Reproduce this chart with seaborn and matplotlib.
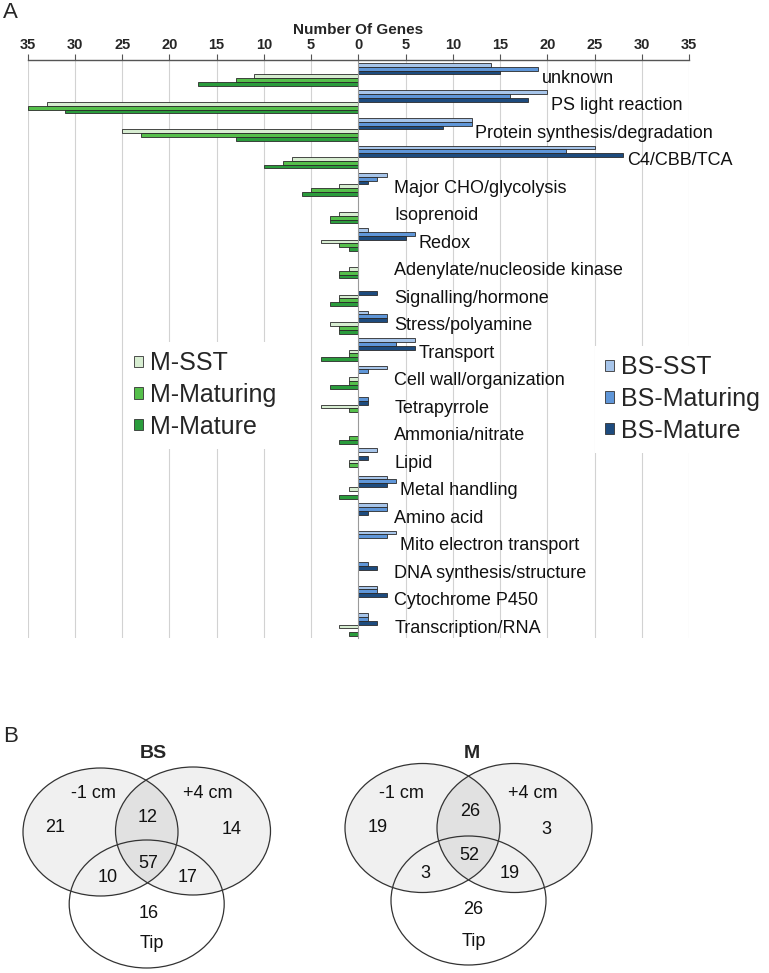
import matplotlib
matplotlib.use('Agg')
import matplotlib.pyplot as plt
import seaborn as sns
import pandas as pd
import numpy as np
from matplotlib.patches import Ellipse, Patch

# ---------------- data ----------------
categories = ['unknown', 'PS light reaction', 'Protein synthesis/degradation', 'C4/CBB/TCA',
              'Major CHO/glycolysis', 'Isoprenoid', 'Redox', 'Adenylate/nucleoside kinase',
              'Signalling/hormone', 'Stress/polyamine', 'Transport', 'Cell wall/organization',
              'Tetrapyrrole', 'Ammonia/nitrate', 'Lipid', 'Metal handling', 'Amino acid',
              'Mito electron transport', 'DNA synthesis/structure', 'Cytochrome P450',
              'Transcription/RNA']

bs_sst      = [14, 20, 12, 25, 3, 0, 1, 0, 0, 1, 6, 3, 0, 0, 2, 3, 3, 4, 0, 2, 1]
bs_maturing = [19, 16, 12, 22, 2, 0, 6, 0, 0, 3, 4, 1, 1, 0, 0, 4, 3, 3, 1, 2, 1]
bs_mature   = [15, 18, 9, 28, 1, 0, 5, 0, 2, 3, 6, 0, 1, 0, 1, 3, 1, 0, 2, 3, 2]
m_sst       = [11, 33, 25, 7, 2, 2, 4, 1, 2, 3, 1, 1, 4, 0, 1, 1, 0, 0, 0, 0, 2]
m_maturing  = [13, 35, 23, 8, 5, 3, 2, 2, 2, 2, 1, 1, 1, 1, 1, 0, 0, 0, 0, 0, 0]
m_mature    = [17, 31, 13, 10, 6, 3, 1, 2, 3, 2, 4, 3, 0, 2, 0, 2, 0, 0, 0, 0, 1]

bs_series = ['BS-SST', 'BS-Maturing', 'BS-Mature']
m_series = ['M-SST', 'M-Maturing', 'M-Mature']
tick_values = [-35, -30, -25, -20, -15, -10, -5, 0, 5, 10, 15, 20, 25, 30, 35]

venn_regions = ['-1 only', '+4 only', '-1&+4', 'all', '-1&Tip', '+4&Tip', 'Tip only']
venn_bs = [21, 14, 12, 57, 10, 17, 16]
venn_m = [19, 3, 26, 52, 3, 19, 26]

# ---------------- style ----------------
sns.set_style('white')
plt.rcParams['font.family'] = ['Liberation Sans', 'DejaVu Sans']

palette = {'BS-SST': '#a7c5ea', 'BS-Maturing': '#5f96d8', 'BS-Mature': '#1d4b7e',
           'M-SST': '#d7edd1', 'M-Maturing': '#55bf4b', 'M-Mature': '#2a9c3c'}

values = {'BS-SST': bs_sst, 'BS-Maturing': bs_maturing, 'BS-Mature': bs_mature,
          'M-SST': [-v for v in m_sst], 'M-Maturing': [-v for v in m_maturing],
          'M-Mature': [-v for v in m_mature]}
rows = []
for s in bs_series + m_series:
    for c, v in zip(categories, values[s]):
        rows.append({'category': c, 'series': s, 'value': v})
df = pd.DataFrame(rows)

W, H = 769, 973
fig = plt.figure(figsize=(W / 100, H / 100), dpi=100)
ax = fig.add_axes([27.7 / W, 1 - 638 / H, (689 - 27.7) / W, (638 - 60) / H])

sns.barplot(data=df, x='value', y='category', hue='series', order=categories,
            hue_order=bs_series + m_series, palette=palette, orient='h',
            width=0.836, dodge=True, saturation=1, errorbar=None,
            edgecolor='#2a2a2a', linewidth=0.6, legend=False, ax=ax)
for p in ax.patches:
    if abs(p.get_width()) < 1e-9:
        p.set_linewidth(0)

ax.set_xlim(-35, 35)
ax.set_ylim(20.49, -0.527)
ax.set_axisbelow(True)
for t in tick_values:
    if t != 0:
        ax.axvline(t, color='#d2d2d2', lw=0.8, zorder=0)

ax.xaxis.tick_top()
ax.xaxis.set_label_position('top')
ax.set_xticks(tick_values)
ax.set_xticklabels([str(abs(t)) for t in tick_values], fontweight='bold', fontsize=10.5)
ax.set_xlabel('Number Of Genes', fontweight='bold', fontsize=11, labelpad=3)
ax.set_ylabel('')
ax.tick_params(axis='x', direction='out', length=4, width=0.8, color='#555555', pad=2)
ax.set_yticks(np.arange(0.5, 20.0, 1.0))
ax.tick_params(axis='y', direction='out', length=3, width=0.6, color='#999999',
               labelleft=False)
ax.spines['bottom'].set_visible(False)
ax.spines['right'].set_visible(False)
ax.spines['top'].set_color('#555555')
ax.spines['top'].set_linewidth(1.0)
ax.spines['left'].set_position(('data', 0))
ax.spines['left'].set_color('#9a9a9a')
ax.spines['left'].set_linewidth(0.8)

for i, c in enumerate(categories):
    xm = max(bs_sst[i], bs_maturing[i], bs_mature[i])
    ax.text(max(xm, 3.4) + 0.4, i + 0.13, c, fontsize=13, va='center', ha='left',
            color='#111111')

def make_legend(names, x_px, y_px):
    handles = [Patch(facecolor=palette[s], edgecolor='#333333', linewidth=0.6, label=s)
               for s in names]
    leg = ax.legend(handles=handles, loc='center left',
                    bbox_to_anchor=(x_px / W, 1 - y_px / H), bbox_transform=fig.transFigure,
                    frameon=True, fontsize=18, handlelength=0.35, handleheight=0.35,
                    handletextpad=0.3, labelspacing=0.3, borderpad=0.4, borderaxespad=0,
                    fancybox=False)
    leg.get_frame().set_edgecolor('none')
    leg.get_frame().set_facecolor('white')
    leg.get_frame().set_alpha(1)
    return leg

leg1 = make_legend(m_series, 124, 395)
ax.add_artist(leg1)
leg2 = make_legend(bs_series, 595, 399)
ax.add_artist(leg2)

fig.text(3 / W, 1 - 13 / H, 'A', fontsize=16, va='center', ha='left')
fig.text(3 / W, 1 - 737 / H, 'B', fontsize=16, va='center', ha='left')

# ---------------- panel B: Venn diagrams ----------------
axb = fig.add_axes([0, 0, 1, 1])
axb.set_xlim(0, W)
axb.set_ylim(H, 0)
axb.axis('off')
axb.patch.set_alpha(0)

def venn(title, counts, centers, size, text_pos, title_pos, label_pos):
    (lx, ly), (rx, ry), (bx, by) = centers
    w, h = size
    for (cx, cy) in [(lx, ly), (rx, ry)]:
        axb.add_patch(Ellipse((cx, cy), w, h, facecolor=(0, 0, 0, 0.06), edgecolor='none'))
    for (cx, cy) in centers:
        axb.add_patch(Ellipse((cx, cy), w, h, facecolor='none', edgecolor='#333333', lw=0.9))
    for n, (tx, ty) in zip(counts, text_pos):
        axb.text(tx, ty, str(n), fontsize=13, ha='center', va='center', color='#111111')
    axb.text(title_pos[0], title_pos[1], title, fontsize=14, fontweight='bold',
             ha='center', va='center')
    for lab, (tx, ty) in zip(['-1 cm', '+4 cm', 'Tip'], label_pos):
        axb.text(tx, ty, lab, fontsize=13, ha='center', va='center', color='#111111')

venn('BS', venn_bs,
     [(100.5, 832), (193, 831), (146.7, 904)], (155, 128),
     [(55, 827), (232, 829), (148, 817), (148, 863), (108, 878), (188, 878), (149, 913)],
     (153, 754),
     [(93, 793), (208, 793), (152, 943)])

venn('M', venn_m,
     [(422.5, 828), (514.5, 828), (468.5, 900.5)], (155, 129),
     [(378, 827), (546, 829), (470, 812), (469, 856), (425, 874), (510, 874), (473, 910)],
     (471.7, 753),
     [(401.7, 793), (532.7, 793), (474, 941)])

fig.savefig('out.png', dpi=100)
